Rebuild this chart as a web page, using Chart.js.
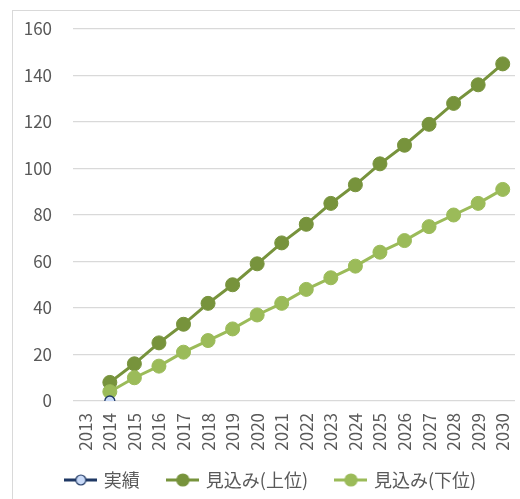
<!DOCTYPE html>
<html lang="ja">
<head>
<meta charset="utf-8">
<script src="https://cdn.jsdelivr.net/npm/chart.js@4/dist/chart.umd.min.js"></script>
<style>
  html, body { margin: 0; padding: 0; background: #ffffff; }
  #wrap { position: relative; width: 520px; height: 499px; overflow: hidden; }
  #frame { position: absolute; left: 12px; top: 10px; width: 520px; height: 500px;
           border: 1px solid #d9d9d9; box-sizing: border-box; pointer-events: none; }
  canvas { position: absolute; left: 0; top: 0; }
</style>
</head>
<body>
<div id="wrap">
  <div id="frame"></div>
  <canvas id="chart" width="520" height="499"></canvas>
</div>
<script>
// Years on the horizontal axis
const years = ['2013','2014','2015','2016','2017','2018','2019','2020','2021',
               '2022','2023','2024','2025','2026','2027','2028','2029','2030'];

// Series names
const seriesNames = ['実績', '見込み(上位)', '見込み(下位)'];

// Recorded value (only 2014)
const actual = [null, 0, null, null, null, null, null, null, null,
                null, null, null, null, null, null, null, null, null];

// Projection, upper case
const upper = [null, 8, 16, 25, 33, 42, 50, 59, 68, 76, 85, 93, 102, 110, 119, 128, 136, 145];

// Projection, lower case
const lower = [null, 4, 10, 15, 21, 26, 31, 37, 42, 48, 53, 58, 64, 69, 75, 80, 85, 91];

// Value axis ticks
const yMin = 0, yMax = 160, yStep = 20;

const colors = {
  actualLine: '#1f3864',
  actualFill: '#c9daf8',
  upper: '#77933c',
  lower: '#9bbb59',
  grid: '#d9d9d9',
  text: '#595959'
};

const FONT = "'Noto Sans CJK JP', 'Noto Sans', sans-serif";

// Legend glyph: a short line with a circle in the middle
function legendGlyph(lineColor, fill, border, r) {
  const c = document.createElement('canvas');
  c.width = 33; c.height = 16;
  const g = c.getContext('2d');
  g.strokeStyle = lineColor;
  g.lineWidth = 3;
  g.beginPath(); g.moveTo(0, 8); g.lineTo(33, 8); g.stroke();
  g.beginPath(); g.arc(16.5, 8, r, 0, Math.PI * 2);
  g.fillStyle = fill; g.fill();
  g.lineWidth = 1.2; g.strokeStyle = border; g.stroke();
  return c;
}

const glyphs = [
  legendGlyph(colors.actualLine, colors.actualFill, colors.actualLine, 5),
  legendGlyph(colors.upper, colors.upper, colors.upper, 6),
  legendGlyph(colors.lower, colors.lower, colors.lower, 6)
];

// Axis boxes have fixed sizes; tick labels may extend past them freely
function fixAxis(s, size) {
  if (s.isHorizontal()) s.height = size; else s.width = size;
  s.paddingLeft = s.paddingRight = s.paddingTop = s.paddingBottom = 0;
  s._computeLabelArea = () => undefined;
}

new Chart(document.getElementById('chart'), {
  type: 'line',
  data: {
    labels: years,
    datasets: [
      {
        label: seriesNames[0], data: actual, order: 0,
        borderColor: colors.actualLine, backgroundColor: colors.actualFill,
        pointBackgroundColor: colors.actualFill, pointBorderColor: colors.actualLine,
        pointRadius: 5, pointBorderWidth: 1.3, borderWidth: 3, showLine: false
      },
      {
        label: seriesNames[1], data: upper, order: 2,
        borderColor: colors.upper, backgroundColor: colors.upper,
        pointBackgroundColor: colors.upper, pointBorderColor: colors.upper,
        pointRadius: 7, pointBorderWidth: 1, borderWidth: 3
      },
      {
        label: seriesNames[2], data: lower, order: 1,
        borderColor: colors.lower, backgroundColor: colors.lower,
        pointBackgroundColor: colors.lower, pointBorderColor: colors.lower,
        pointRadius: 7, pointBorderWidth: 1, borderWidth: 3
      }
    ]
  },
  options: {
    responsive: false,
    animation: false,
    layout: { autoPadding: false, padding: { left: 28, right: 5, top: 29, bottom: 0 } },
    plugins: {
      tooltip: { enabled: false },
      legend: {
        position: 'bottom',
        labels: {
          usePointStyle: true,
          pointStyleWidth: 28,
          padding: 29,
          color: colors.text,
          font: { family: FONT, size: 18 },
          sort: (a, b) => a.datasetIndex - b.datasetIndex,
          generateLabels: (chart) => {
            const items = Chart.defaults.plugins.legend.labels.generateLabels(chart);
            items.forEach(it => { it.pointStyle = glyphs[it.datasetIndex]; });
            return items;
          }
        }
      }
    },
    scales: {
      x: {
        offset: true,
        grid: { display: false, drawTicks: false },
        border: { display: false },
        ticks: {
          color: colors.text, font: { family: FONT, size: 17 },
          minRotation: 90, maxRotation: 90, padding: 12, autoSkip: false
        },
        afterFit: (s) => fixAxis(s, 41)
      },
      y: {
        min: yMin, max: yMax,
        grid: { color: colors.grid, lineWidth: 1.3, drawTicks: false },
        border: { display: false },
        ticks: {
          stepSize: yStep, color: colors.text,
          font: { family: FONT, size: 17 }, padding: 21
        },
        afterFit: (s) => fixAxis(s, 45)
      }
    }
  }
});
</script>
</body>
</html>
